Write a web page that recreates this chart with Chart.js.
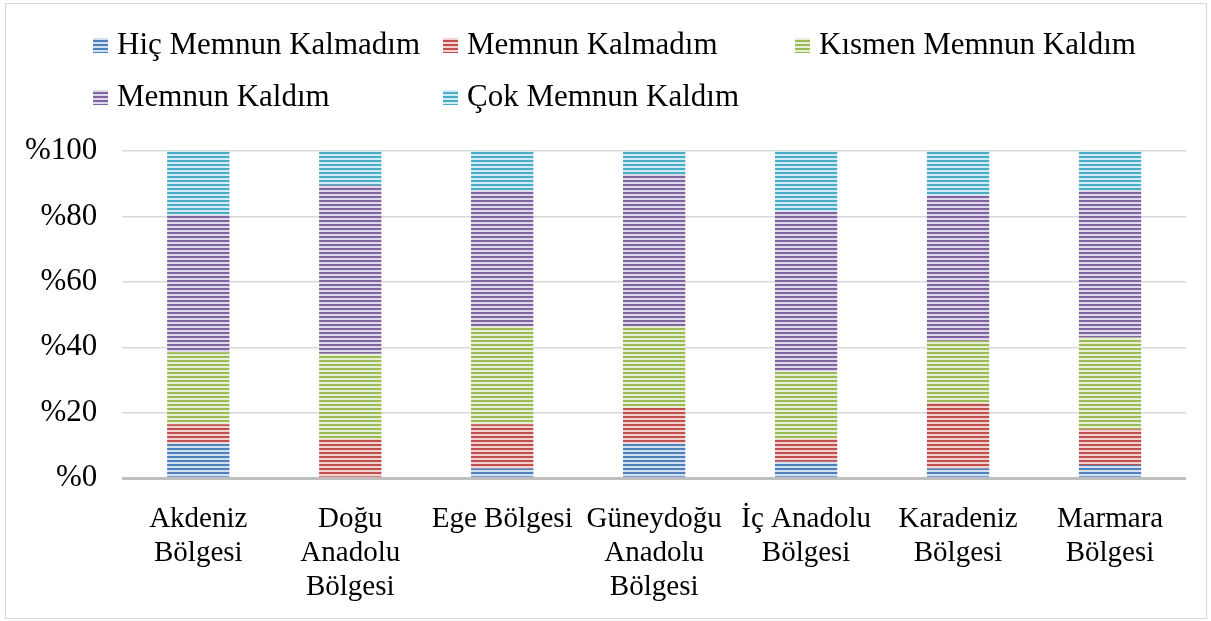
<!DOCTYPE html>
<html>
<head>
<meta charset="utf-8">
<script src="https://cdn.jsdelivr.net/npm/chart.js@4"></script>
<style>
  body { margin: 0; background: #fff; }
  #wrap { position: relative; width: 1211px; height: 621px; }
  #frame { position: absolute; left: 5px; top: 3px; width: 1202px; height: 616px; border: 1px solid #d9d9d9; box-sizing: border-box; pointer-events: none; }
</style>
</head>
<body>
<div id="wrap">
  <canvas id="myChart" width="1211" height="621"></canvas>
  <div id="frame"></div>
</div>
<script>
const regions = [
  ['Akdeniz', 'Bölgesi'],
  ['Doğu', 'Anadolu', 'Bölgesi'],
  ['Ege Bölgesi'],
  ['Güneydoğu', 'Anadolu', 'Bölgesi'],
  ['İç Anadolu', 'Bölgesi'],
  ['Karadeniz', 'Bölgesi'],
  ['Marmara', 'Bölgesi']
];
const seriesNames = ['Hiç Memnun Kalmadım', 'Memnun Kalmadım', 'Kısmen Memnun Kaldım', 'Memnun Kaldım', 'Çok Memnun Kaldım'];

const hicMemnunKalmadim = [10.5, 0, 3, 10.5, 5, 3, 4];
const memnunKalmadim = [6, 12, 13.5, 11, 7, 20, 11];
const kismenMemnunKaldim = [22, 26, 30, 25, 20.5, 19, 28];
const memnunKaldim = [42, 51.5, 41.5, 46.5, 49, 44.5, 45];
const cokMemnunKaldim = [19.5, 10.5, 12, 7, 18.5, 13.5, 12];

const yTicks = [0, 20, 40, 60, 80, 100];

const darkColors = ['#4f81bd', '#c0504d', '#9bbb59', '#8064a2', '#4bacc6'];
const lightColors = ['#d3e0f0', '#f3d3d2', '#e7f0d6', '#dfd8ea', '#d0ebf3'];

function stripes(dark, light) {
  const c = document.createElement('canvas');
  c.width = 4; c.height = 4;
  const g = c.getContext('2d');
  g.fillStyle = light;
  g.fillRect(0, 0, 4, 4);
  g.fillStyle = dark;
  g.fillRect(0, 0, 4, 2);
  return g.createPattern(c, 'repeat');
}

const values = [hicMemnunKalmadim, memnunKalmadim, kismenMemnunKaldim, memnunKaldim, cokMemnunKaldim];
const fills = darkColors.map((d, i) => stripes(d, lightColors[i]));

const fontFamily = '"Liberation Serif", "DejaVu Serif", serif';

// legend laid out in a grid like the original
const gridLegend = {
  id: 'gridLegend',
  afterDraw(chart) {
    const c = chart.ctx;
    const cols = [93, 443, 795];
    const rows = [45, 97];
    c.save();
    c.font = '31px ' + fontFamily;
    c.textBaseline = 'middle';
    seriesNames.forEach((name, i) => {
      const x = cols[i % 3];
      const y = rows[Math.floor(i / 3)];
      c.fillStyle = fills[i];
      c.fillRect(x, y - 7, 15, 15);
      c.fillStyle = '#000';
      c.fillText(name, x + 24, y + 1);
    });
    c.restore();
  }
};

new Chart(document.getElementById('myChart'), {
  type: 'bar',
  data: {
    labels: regions,
    datasets: seriesNames.map((name, i) => ({
      label: name,
      data: values[i],
      backgroundColor: fills[i],
      borderWidth: 0,
      barPercentage: 0.41,
      categoryPercentage: 1
    }))
  },
  options: {
    responsive: false,
    animation: false,
    layout: { padding: { top: 151, left: 0, right: 25, bottom: 1 } },
    plugins: {
      legend: { display: false },
      tooltip: { enabled: false }
    },
    scales: {
      x: {
        stacked: true,
        grid: { display: false },
        border: { display: false },
        ticks: {
          color: '#000',
          padding: 16,
          maxRotation: 0,
          autoSkip: false,
          font: { family: fontFamily, size: 29, lineHeight: 1.17 }
        }
      },
      y: {
        stacked: true,
        min: 0,
        max: 100,
        afterBuildTicks: axis => { axis.ticks = yTicks.map(v => ({ value: v })); },
        border: { display: false },
        grid: {
          drawTicks: false,
          color: ctx => ctx.tick && ctx.tick.value === 0 ? '#bfbfbf' : '#d9d9d9',
          lineWidth: ctx => ctx.tick && ctx.tick.value === 0 ? 3 : 1.5
        },
        ticks: {
          color: '#000',
          padding: 25,
          font: { family: fontFamily, size: 31 },
          callback: v => '%' + v
        }
      }
    }
  },
  plugins: [gridLegend]
});
</script>
</body>
</html>
